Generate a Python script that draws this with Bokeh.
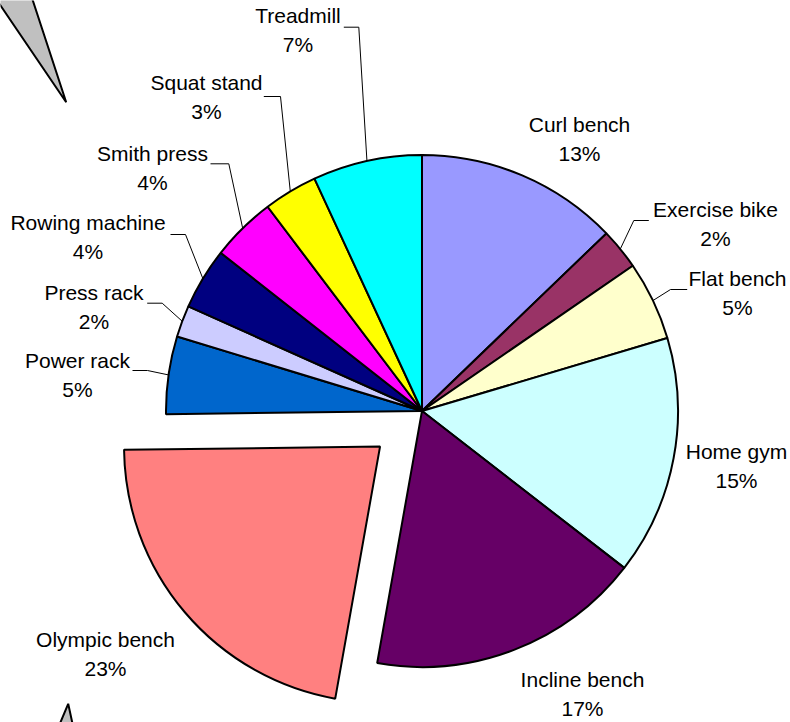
import math
from bokeh.plotting import figure
from bokeh.models import Range1d, ColumnDataSource
from bokeh.core.properties import value
from bokeh.embed import file_html
from bokeh.resources import INLINE

# ---------------- data ----------------
categories = ["Curl bench", "Exercise bike", "Flat bench", "Home gym", "Incline bench",
              "Olympic bench", "Power rack", "Press rack", "Rowing machine",
              "Smith press", "Squat stand", "Treadmill"]
shares = [12.8, 2.6, 5.0, 15.1, 17.3, 22.0, 4.9, 2.0, 3.9, 4.1, 3.4, 6.9]
pct_labels = ["13%", "2%", "5%", "15%", "17%", "23%", "5%", "2%", "4%", "4%", "3%", "7%"]

# ---------------- styles / layout ----------------
colors = ["#9999FF", "#993366", "#FFFFCC", "#CCFFFF", "#660066", "#FF8080",
          "#0066CC", "#CCCCFF", "#000080", "#FF00FF", "#FFFF00", "#00FFFF"]
explode = [0, 0, 0, 0, 0, 0.215, 0, 0, 0, 0, 0, 0]

# label layout in window pixels: centre x, baseline of first line
label_x = [579, 715, 737, 736, 582, 105, 77, 93.5, 87.5, 152, 206, 297.5]
label_base = [124, 209, 278, 451, 679, 639, 360, 292, 222, 153, 82, 15]
line_gap = 28.5
# leader lines: (elbow x, horizontal y, end x) in window pixels, None = no leader
leaders = [None, (633.3, 220, 648.3), (670, 289, 686.7), None, None, None,
           (147, 370, 132), (161.7, 302.7, 146.7), (185, 234, 170),
           (228.3, 163.3, 210), (280, 96, 263.3), (358.3, 26.7, 343.3)]

W, H = 790, 722
CX, CY = 421.5, 410.5  # window px
R = 256


def dy(y):
    return H - y


cx, cy = CX, dy(CY)

p = figure(width=W, height=H, x_range=Range1d(0, W), y_range=Range1d(0, H),
           min_border=0, toolbar_location=None, output_backend="svg",
           x_axis_type=None, y_axis_type=None)
p.xgrid.visible = False
p.ygrid.visible = False
p.outline_line_color = None
p.background_fill_color = "white"
p.border_fill_color = "white"

# gray callout pointers (partially outside the frame)
p.patch([65.7, -37.4, 15.9], [dy(101.7), dy(-50), dy(-50)],
        fill_color="#C0C0C0", line_color="black", line_width=2)
p.patch([67.7, 44, 80], [dy(703.3), dy(760), dy(760)],
        fill_color="#C0C0C0", line_color="black", line_width=2)

total = sum(shares)
xs, ys, starts, ends, mids = [], [], [], [], []
acc = 0.0
for s, e in zip(shares, explode):
    t0 = 2 * math.pi * acc / total
    acc += s
    t1 = 2 * math.pi * acc / total
    tm = (t0 + t1) / 2
    mids.append(tm)
    xs.append(cx + e * R * math.sin(tm))
    ys.append(cy + e * R * math.cos(tm))
    starts.append(math.pi / 2 - t0)
    ends.append(math.pi / 2 - t1)

src = ColumnDataSource(dict(x=xs, y=ys, start=starts, end=ends, color=colors, cat=categories))
p.wedge(x="x", y="y", radius=R, start_angle="start", end_angle="end", direction="clock",
        fill_color="color", line_color="black", line_width=2, source=src)

# leader lines
lx, ly = [], []
for i, ld in enumerate(leaders):
    if ld is None:
        continue
    ex, hy, endx = ld
    px = xs[i] + R * math.sin(mids[i])
    py = ys[i] + R * math.cos(mids[i])
    lx.append([px, ex, endx])
    ly.append([py, dy(hy), dy(hy)])
p.multi_line(lx, ly, line_color="black", line_width=1)

# labels
tsrc = ColumnDataSource(dict(
    x=label_x + label_x,
    y=[dy(b) for b in label_base] + [dy(b + line_gap) for b in label_base],
    t=categories + pct_labels))
p.text(x="x", y="y", text="t", source=tsrc, text_align="center", text_baseline="alphabetic",
       text_font=value("Liberation Sans"), text_font_size="21px", text_color="black")

open("out.html", "w").write(file_html(p, INLINE))
